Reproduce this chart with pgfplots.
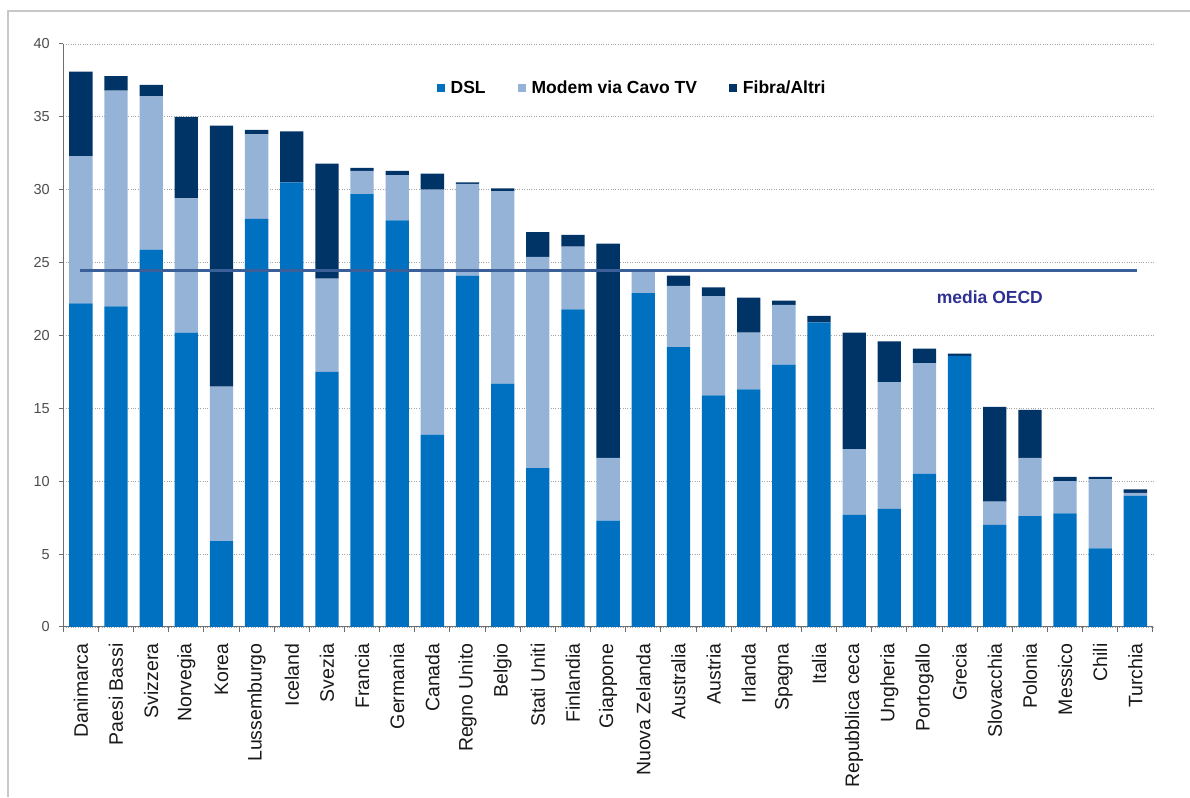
\documentclass[border=0pt]{standalone}
\usepackage{fontspec}
\setmainfont{Liberation Sans}
\usepackage{pgfplots}
\usepackage{pgfplotstable}
\pgfplotsset{compat=1.18}
\definecolor{dsl}{HTML}{0070C0}
\definecolor{cavo}{HTML}{95B3D7}
\definecolor{fibra}{HTML}{003366}
\definecolor{oecd}{HTML}{3B5F98}
\definecolor{oecdtxt}{HTML}{2E3192}
\definecolor{axisgray}{HTML}{6E6E6E}
\definecolor{framegray}{HTML}{C8C8C8}

\pgfplotstableread{
idx dsl cavo fibra
0 22.2 10.1 5.8
1 22.0 14.8 1.0
2 25.9 10.5 0.8
3 20.2 9.2 5.6
4 5.9 10.6 17.9
5 28.0 5.8 0.3
6 30.5 0.0 3.5
7 17.5 6.4 7.9
8 29.7 1.6 0.2
9 27.9 3.1 0.3
10 13.2 16.8 1.1
11 24.1 6.3 0.1
12 16.7 13.2 0.2
13 10.9 14.5 1.7
14 21.8 4.3 0.8
15 7.3 4.3 14.7
16 22.9 1.5 0.05
17 19.2 4.2 0.7
18 15.9 6.8 0.6
19 16.3 3.9 2.4
20 18.0 4.1 0.3
21 20.9 0.0 0.45
22 7.7 4.5 8.0
23 8.1 8.7 2.8
24 10.5 7.6 1.0
25 18.6 0.0 0.15
26 7.0 1.6 6.5
27 7.6 4.0 3.3
28 7.8 2.2 0.3
29 5.4 4.75 0.15
30 9.0 0.2 0.25
}\data

\begin{document}
\begin{tikzpicture}[x=1pt,y=1pt]
\draw[line width=1.5pt, color=framegray] (8,0) -- (8,786) -- (1190,786);
\begin{axis}[
  at={(63.3pt,170pt)}, anchor=south west,
  scale only axis, width=1089.7pt, height=583pt,
  ybar stacked, bar width=23.3pt,
  xmin=-0.5, xmax=30.5, ymin=0, ymax=40,
  axis lines*=left,
  axis line style={color=axisgray, line width=1pt},
  ytick={0,5,...,40},
  xtick={0,...,30},
  xticklabels={Danimarca, Paesi Bassi, Svizzera, Norvegia, Korea, Lussemburgo, Iceland, Svezia, Francia, Germania, Canada, Regno Unito, Belgio, Stati Uniti, Finlandia, Giappone, Nuova Zelanda, Australia, Austria, Irlanda, Spagna, Italia, Repubblica ceca, Ungheria, Portogallo, Grecia, Slovacchia, Polonia, Messico, Chili, Turchia},
  minor xtick={-0.5,0.5,...,30.5},
  tick align=outside,
  major tick length=4pt, minor tick length=5pt,
  major x tick style={draw=none},
  minor x tick style={color=axisgray, line width=1pt},
  ytick style={color=axisgray, line width=1pt},
  ymajorgrids,
  major grid style={dotted, color=gray!70, line width=0.9pt},
  yticklabel style={font=\fontsize{14.5}{16}\selectfont, color=black!70, xshift=-6pt},
  xticklabel style={font=\fontsize{19.5}{22}\selectfont, color=black!90, rotate=90, anchor=east, xshift=-9pt},
  /pgf/number format/assume math mode=true,
  legend columns=3,
  legend style={at={(0.522,0.925)}, anchor=center, draw=none, fill=none,
    font=\bfseries\fontsize{17.5}{20}\selectfont,
    /tikz/every odd column/.append style={column sep=4pt},
    /tikz/every even column/.append style={column sep=30pt}},
  legend image code/.code={\draw[#1,draw=none] (0pt,-4pt) rectangle (8pt,4pt);},
]
\addplot[fill=dsl, draw=none] table[x=idx, y=dsl] {\data};
\addplot[fill=cavo, draw=none] table[x=idx, y=cavo] {\data};
\addplot[fill=fibra, draw=none] table[x=idx, y=fibra] {\data};
\legend{DSL, Modem via Cavo TV, Fibra/Altri}
\end{axis}
\begin{axis}[
  at={(63.3pt,170pt)}, anchor=south west,
  scale only axis, width=1089.7pt, height=583pt,
  xmin=-0.5, xmax=30.5, ymin=0, ymax=40,
  hide axis, clip=false,
]
\addplot[color=oecd, line width=3pt, mark=none] coordinates {(-0.03,24.45) (30.05,24.45)};
\node[text=oecdtxt, font=\bfseries\fontsize{17.5}{20}\selectfont] at (axis cs:25.86,22.6) {media OECD};
\end{axis}
\pgfresetboundingbox
\useasboundingbox (0,0) rectangle (1190,797);
\end{tikzpicture}
\end{document}
